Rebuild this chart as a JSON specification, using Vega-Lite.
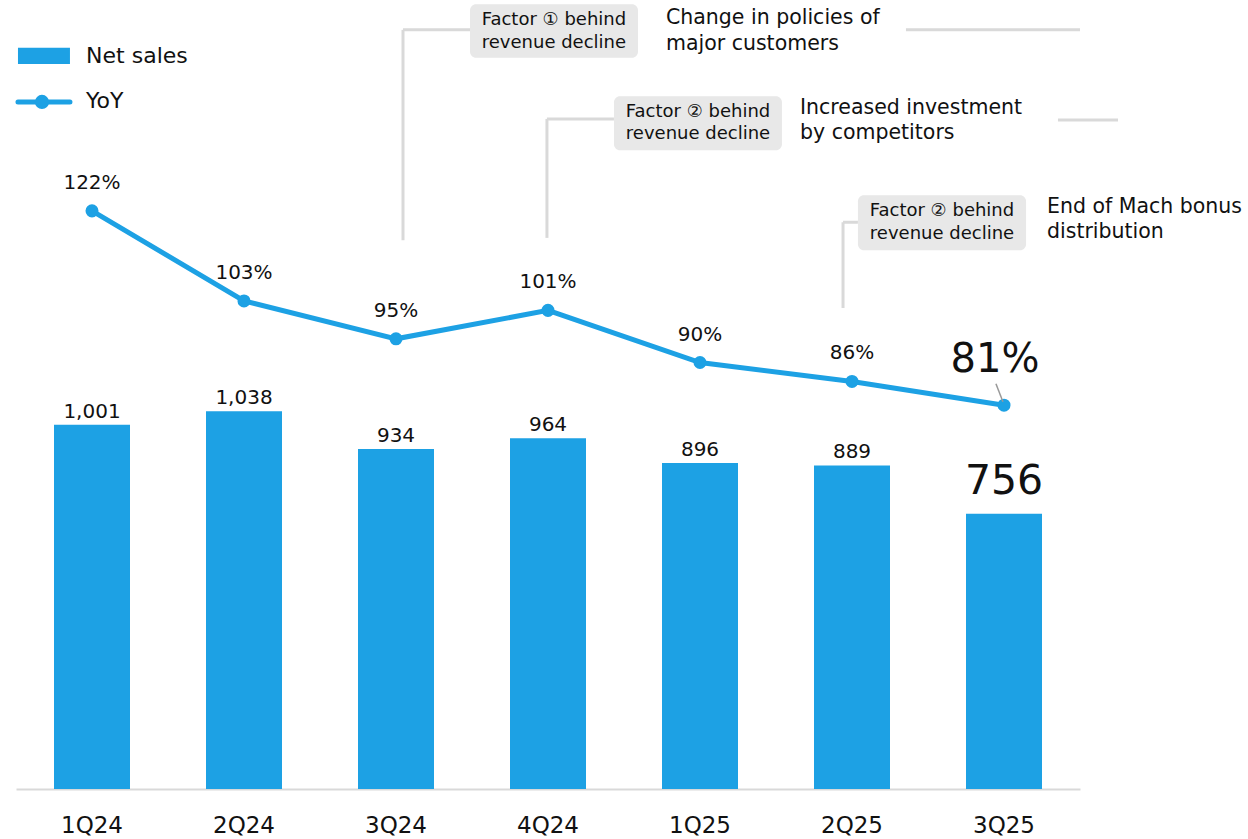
{
  "$schema": "https://vega.github.io/schema/vega-lite/v6.json",
  "width": 1064,
  "height": 789,
  "autosize": {"type": "none"},
  "padding": {"left": 16, "top": 0, "right": 168, "bottom": 50},
  "background": "white",
  "config": {"view": {"stroke": null}, "font": "DejaVu Sans", "text": {"font": "DejaVu Sans", "color": "#111111"}},
  "datasets": {
    "main": [
      {"q": "1Q24", "sales": 1001, "label": "1,001", "yoy": 122},
      {"q": "2Q24", "sales": 1038, "label": "1,038", "yoy": 103},
      {"q": "3Q24", "sales": 934, "label": "934", "yoy": 95},
      {"q": "4Q24", "sales": 964, "label": "964", "yoy": 101},
      {"q": "1Q25", "sales": 896, "label": "896", "yoy": 90},
      {"q": "2Q25", "sales": 889, "label": "889", "yoy": 86},
      {"q": "3Q25", "sales": 756, "label": "756", "yoy": 81}
    ],
    "connectors": [
      {"x": 2.546, "y": 115.8, "x2": 2.546, "y2": 160.2},
      {"x": 2.546, "y": 160.2, "x2": 2.987, "y2": 160.2},
      {"x": 5.855, "y": 160.2, "x2": 7.0, "y2": 160.2},
      {"x": 3.493, "y": 116.3, "x2": 3.493, "y2": 141.4},
      {"x": 3.493, "y": 141.4, "x2": 3.934, "y2": 141.4},
      {"x": 6.855, "y": 141.2, "x2": 7.25, "y2": 141.2},
      {"x": 5.441, "y": 101.5, "x2": 5.441, "y2": 119.6},
      {"x": 5.441, "y": 119.6, "x2": 5.539, "y2": 119.6}
    ],
    "leader": [{"x": 6.447, "y": 85.5, "x2": 6.493, "y2": 81.7}],
    "boxes": [
      {"x": 2.987, "x2": 4.092, "y": 165.6, "y2": 154.3},
      {"x": 3.934, "x2": 5.039, "y": 146.2, "y2": 134.8},
      {"x": 5.539, "x2": 6.645, "y": 125.3, "y2": 113.7}
    ],
    "boxtext": [
      {"x": 3.539, "y": 162.3, "t": "Factor ① behind"},
      {"x": 3.539, "y": 157.4, "t": "revenue decline"},
      {"x": 4.487, "y": 142.9, "t": "Factor ② behind"},
      {"x": 4.487, "y": 138.2, "t": "revenue decline"},
      {"x": 6.092, "y": 121.9, "t": "Factor ② behind"},
      {"x": 6.092, "y": 117.1, "t": "revenue decline"}
    ],
    "sidetext": [
      {"x": 4.276, "y": 162.7, "t": "Change in policies of"},
      {"x": 4.276, "y": 157.2, "t": "major customers"},
      {"x": 5.158, "y": 143.7, "t": "Increased investment"},
      {"x": 5.158, "y": 138.4, "t": "by competitors"},
      {"x": 6.783, "y": 122.8, "t": "End of Mach bonus"},
      {"x": 6.783, "y": 117.5, "t": "distribution"}
    ],
    "legbar": [{"x": 0.013, "x2": 0.355, "y": 156.4, "y2": 153.0}],
    "legline": [{"x": 0.013, "x2": 0.355, "y": 145.0, "dot": 0.171}],
    "legtext": [
      {"x": 0.461, "y": 154.7, "t": "Net sales"},
      {"x": 0.461, "y": 145.2, "t": "YoY"}
    ]
  },
  "resolve": {"scale": {"x": "independent", "y": "independent"}},
  "layer": [
    {
      "data": {"name": "main"},
      "mark": {"type": "bar", "color": "#1DA1E4"},
      "encoding": {
        "x": {"field": "q", "type": "nominal", "sort": null,
              "scale": {"paddingInner": 0.5, "paddingOuter": 0.25},
              "axis": {"title": null, "ticks": false, "labelAngle": 0, "labelFontSize": 23, "labelColor": "#111111", "labelFont": "DejaVu Sans", "labelPadding": 25, "domainColor": "#d9d9d9", "domainWidth": 2}},
        "y": {"field": "sales", "type": "quantitative", "scale": {"domain": [0, 2168]}, "axis": null}
      }
    },
    {
      "data": {"name": "main"},
      "transform": [{"filter": "datum.q != '3Q25'"}],
      "mark": {"type": "text", "fontSize": 20, "baseline": "alphabetic", "dy": -7},
      "encoding": {
        "x": {"field": "q", "type": "nominal", "sort": null, "scale": {"domain": ["1Q24","2Q24","3Q24","4Q24","1Q25","2Q25","3Q25"], "paddingInner": 0.5, "paddingOuter": 0.25}, "axis": null},
        "y": {"field": "sales", "type": "quantitative", "scale": {"domain": [0, 2168]}, "axis": null},
        "text": {"field": "label"}
      }
    },
    {
      "data": {"name": "main"},
      "transform": [{"filter": "datum.q == '3Q25'"}],
      "mark": {"type": "text", "fontSize": 41, "baseline": "alphabetic", "dy": -20},
      "encoding": {
        "x": {"field": "q", "type": "nominal", "sort": null, "scale": {"domain": ["1Q24","2Q24","3Q24","4Q24","1Q25","2Q25","3Q25"], "paddingInner": 0.5, "paddingOuter": 0.25}, "axis": null},
        "y": {"field": "sales", "type": "quantitative", "scale": {"domain": [0, 2168]}, "axis": null},
        "text": {"field": "label"}
      }
    },
    {
      "data": {"name": "main"},
      "mark": {"type": "line", "color": "#1DA1E4", "strokeWidth": 5, "point": {"filled": true, "size": 170, "color": "#1DA1E4"}},
      "encoding": {
        "x": {"field": "q", "type": "nominal", "sort": null, "scale": {"domain": ["1Q24","2Q24","3Q24","4Q24","1Q25","2Q25","3Q25"], "paddingInner": 0.5, "paddingOuter": 0.25}, "axis": null},
        "y": {"field": "yoy", "type": "quantitative", "scale": {"domain": [0, 166.5]}, "axis": null}
      }
    },
    {
      "data": {"name": "main"},
      "transform": [{"filter": "datum.q != '3Q25'"}, {"calculate": "datum.yoy + '%'", "as": "yl"}],
      "mark": {"type": "text", "fontSize": 20, "baseline": "alphabetic", "dy": -22},
      "encoding": {
        "x": {"field": "q", "type": "nominal", "sort": null, "scale": {"domain": ["1Q24","2Q24","3Q24","4Q24","1Q25","2Q25","3Q25"], "paddingInner": 0.5, "paddingOuter": 0.25}, "axis": null},
        "y": {"field": "yoy", "type": "quantitative", "scale": {"domain": [0, 166.5]}, "axis": null},
        "text": {"field": "yl"}
      }
    },
    {
      "data": {"name": "main"},
      "transform": [{"filter": "datum.q == '3Q25'"}, {"calculate": "datum.yoy + '%'", "as": "yl"}],
      "mark": {"type": "text", "fontSize": 40, "baseline": "alphabetic", "dy": -33, "dx": -9},
      "encoding": {
        "x": {"field": "q", "type": "nominal", "sort": null, "scale": {"domain": ["1Q24","2Q24","3Q24","4Q24","1Q25","2Q25","3Q25"], "paddingInner": 0.5, "paddingOuter": 0.25}, "axis": null},
        "y": {"field": "yoy", "type": "quantitative", "scale": {"domain": [0, 166.5]}, "axis": null},
        "text": {"field": "yl"}
      }
    },
    {
      "data": {"name": "connectors"},
      "mark": {"type": "rule", "color": "#d9d9d9", "strokeWidth": 3},
      "encoding": {
        "x": {"field": "x", "type": "quantitative", "scale": {"domain": [0, 7], "nice": false, "zero": false}, "axis": null},
        "x2": {"field": "x2"},
        "y": {"field": "y", "type": "quantitative", "scale": {"domain": [0, 166.5], "nice": false}, "axis": null},
        "y2": {"field": "y2"}
      }
    },
    {
      "data": {"name": "leader"},
      "mark": {"type": "rule", "color": "#999999", "strokeWidth": 1.5},
      "encoding": {
        "x": {"field": "x", "type": "quantitative", "scale": {"domain": [0, 7], "nice": false, "zero": false}, "axis": null},
        "x2": {"field": "x2"},
        "y": {"field": "y", "type": "quantitative", "scale": {"domain": [0, 166.5], "nice": false}, "axis": null},
        "y2": {"field": "y2"}
      }
    },
    {
      "data": {"name": "boxes"},
      "mark": {"type": "rect", "color": "#e8e8e8", "cornerRadius": 6},
      "encoding": {
        "x": {"field": "x", "type": "quantitative", "scale": {"domain": [0, 7], "nice": false, "zero": false}, "axis": null},
        "x2": {"field": "x2"},
        "y": {"field": "y", "type": "quantitative", "scale": {"domain": [0, 166.5], "nice": false}, "axis": null},
        "y2": {"field": "y2"}
      }
    },
    {
      "data": {"name": "boxtext"},
      "mark": {"type": "text", "fontSize": 18, "align": "center", "baseline": "middle"},
      "encoding": {
        "x": {"field": "x", "type": "quantitative", "scale": {"domain": [0, 7], "nice": false, "zero": false}, "axis": null},
        "y": {"field": "y", "type": "quantitative", "scale": {"domain": [0, 166.5], "nice": false}, "axis": null},
        "text": {"field": "t"}
      }
    },
    {
      "data": {"name": "sidetext"},
      "mark": {"type": "text", "fontSize": 20.5, "align": "left", "baseline": "middle"},
      "encoding": {
        "x": {"field": "x", "type": "quantitative", "scale": {"domain": [0, 7], "nice": false, "zero": false}, "axis": null},
        "y": {"field": "y", "type": "quantitative", "scale": {"domain": [0, 166.5], "nice": false}, "axis": null},
        "text": {"field": "t"}
      }
    },
    {
      "data": {"name": "legbar"},
      "mark": {"type": "rect", "color": "#1DA1E4"},
      "encoding": {
        "x": {"field": "x", "type": "quantitative", "scale": {"domain": [0, 7], "nice": false, "zero": false}, "axis": null},
        "x2": {"field": "x2"},
        "y": {"field": "y", "type": "quantitative", "scale": {"domain": [0, 166.5], "nice": false}, "axis": null},
        "y2": {"field": "y2"}
      }
    },
    {
      "data": {"name": "legline"},
      "mark": {"type": "rule", "color": "#1DA1E4", "strokeWidth": 5, "strokeCap": "round"},
      "encoding": {
        "x": {"field": "x", "type": "quantitative", "scale": {"domain": [0, 7], "nice": false, "zero": false}, "axis": null},
        "x2": {"field": "x2"},
        "y": {"field": "y", "type": "quantitative", "scale": {"domain": [0, 166.5], "nice": false}, "axis": null}
      }
    },
    {
      "data": {"name": "legline"},
      "mark": {"type": "point", "filled": true, "size": 200, "color": "#1DA1E4", "opacity": 1},
      "encoding": {
        "x": {"field": "dot", "type": "quantitative", "scale": {"domain": [0, 7], "nice": false, "zero": false}, "axis": null},
        "y": {"field": "y", "type": "quantitative", "scale": {"domain": [0, 166.5], "nice": false}, "axis": null}
      }
    },
    {
      "data": {"name": "legtext"},
      "mark": {"type": "text", "fontSize": 22, "align": "left", "baseline": "middle"},
      "encoding": {
        "x": {"field": "x", "type": "quantitative", "scale": {"domain": [0, 7], "nice": false, "zero": false}, "axis": null},
        "y": {"field": "y", "type": "quantitative", "scale": {"domain": [0, 166.5], "nice": false}, "axis": null},
        "text": {"field": "t"}
      }
    }
  ]
}
